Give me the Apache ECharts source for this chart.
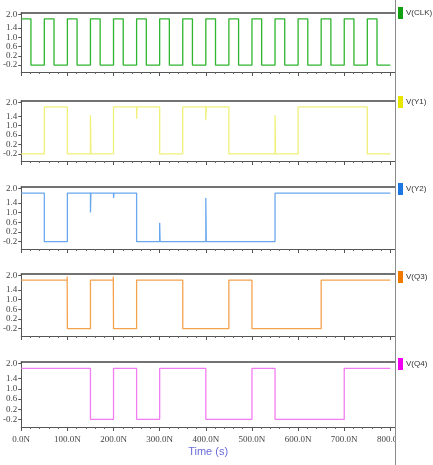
<!DOCTYPE html>
<html>
<head>
<meta charset="utf-8">
<script src="https://cdn.jsdelivr.net/npm/echarts@6/dist/echarts.min.js"></script>
<style>
  html, body { margin: 0; padding: 0; background: #fff; }
  #chart { width: 433px; height: 465px; }
</style>
</head>
<body>
<div id="chart"></div>
<script>
// signal names
const names = ['V(CLK)', 'V(Y1)', 'V(Y2)', 'V(Q3)', 'V(Q4)'];

// waveforms as [time (ns), volts] steps; each level holds until the next point
const clk = [
  [0, 1.8], [21, -0.2], [50, 1.8], [71, -0.2], [100, 1.8], [121, -0.2], [150, 1.8], [171, -0.2],
  [200, 1.8], [221, -0.2], [250, 1.8], [271, -0.2], [300, 1.8], [321, -0.2], [350, 1.8], [371, -0.2],
  [400, 1.8], [421, -0.2], [450, 1.8], [471, -0.2], [500, 1.8], [521, -0.2], [550, 1.8], [571, -0.2],
  [600, 1.8], [621, -0.2], [650, 1.8], [671, -0.2], [700, 1.8], [721, -0.2], [750, 1.8], [771, -0.2],
  [800, -0.2]
];
const y1 = [
  [0, -0.2], [50, 1.8], [100, -0.2], [150, 1.44], [151, -0.2], [200, 1.8], [250, 1.3], [251, 1.8],
  [300, -0.2], [350, 1.8], [400, 1.23], [401, 1.8], [450, -0.2], [550, 1.44], [551, -0.2],
  [600, 1.8], [750, -0.2], [800, -0.2]
];
const y2 = [
  [0, 1.8], [50, -0.2], [100, 1.8], [150, 1.0], [151, 1.8], [200, 1.6], [201, 1.8], [250, -0.2],
  [300, 0.58], [301, -0.2], [400, 1.6], [401, -0.2], [550, 1.8], [800, 1.8]
];
const q3 = [
  [0, 1.8], [99.5, 1.95], [100, -0.2], [150, 1.8], [199.5, 1.95], [200, -0.2], [250, 1.8],
  [350, -0.2], [450, 1.8], [500, -0.2], [650, 1.8], [800, 1.8]
];
const q4 = [
  [0, 1.8], [150, -0.2], [200, 1.8], [250, -0.2], [300, 1.8], [400, -0.2], [500, 1.8],
  [550, -0.2], [700, 1.8], [800, 1.8]
];
const waves = [clk, y1, y2, q3, q4];

// axis ticks
const yLabels = [2.0, 1.4, 1.0, 0.6, 0.2, -0.2];
const xTicks = [0, 100, 200, 300, 400, 500, 600, 700, 800];

const lineColors = ['#2fb52f', '#f0f07a', '#6aa8ee', '#f5a24e', '#f27cf2'];
const keyColors = ['#12a012', '#e6e600', '#1c78e0', '#f07a00', '#f000f0'];

const gridTop = [13, 101, 187, 274, 362];
const gridH = [59, 60, 62, 62, 65];
const legendMid = [13, 102, 189, 277, 364];

const axisGray = '#555';
const tickFont = { fontSize: 9, fontFamily: 'Liberation Serif', color: '#444' };

const grid = [], xAxis = [], yAxis = [], series = [], legend = [];
names.forEach((name, i) => {
  grid.push({ left: 19, width: 376, top: gridTop[i], height: gridH[i] });
  xAxis.push({
    gridIndex: i, type: 'value', min: 0, max: 810, interval: 100,
    name: i === 4 ? 'Time (s)' : '',
    nameLocation: 'middle', nameGap: 19,
    nameTextStyle: { color: '#6b6bd8', fontSize: 11, fontFamily: 'Liberation Sans' },
    axisLine: { onZero: false, lineStyle: { color: axisGray, width: 1 } },
    axisTick: { length: 4, lineStyle: { color: axisGray } },
    minorTick: { show: true, splitNumber: 5, length: 2, lineStyle: { color: '#666' } },
    splitLine: { show: false },
    axisLabel: {
      show: i === 4, customValues: xTicks, margin: 8, ...tickFont,
      formatter: v => v.toFixed(1) + 'N'
    }
  });
  xAxis.push({
    gridIndex: i, type: 'value', min: 0, max: 810, position: 'top',
    axisLine: { show: true, onZero: false, lineStyle: { color: '#444', width: 1.5 } },
    axisTick: { show: false }, axisLabel: { show: false }, splitLine: { show: false }
  });
  yAxis.push({
    gridIndex: i, type: 'value', min: -0.5, max: 2.05,
    axisLine: { show: true, onZero: false, lineStyle: { color: axisGray } },
    axisTick: { show: true, customValues: yLabels, length: 3, lineStyle: { color: axisGray } },
    axisLabel: { customValues: yLabels, margin: 4, ...tickFont, formatter: v => v.toFixed(1) },
    splitLine: { show: false }
  });
  series.push({
    name: name, type: 'line', xAxisIndex: 2 * i, yAxisIndex: i,
    step: 'end', symbol: 'none', animation: false,
    lineStyle: { color: lineColors[i], width: 1.3 },
    itemStyle: { color: lineColors[i] },
    data: waves[i]
  });
  legend.push({
    data: [{ name: name, itemStyle: { color: keyColors[i] } }],
    left: 398, top: legendMid[i] - 6, orient: 'vertical', padding: 0,
    icon: 'rect', itemWidth: 5, itemHeight: 12, selectedMode: false,
    textStyle: { fontSize: 8, fontFamily: 'Liberation Sans', color: '#333', padding: [0, 0, 0, -2] }
  });
});

const chart = echarts.init(document.getElementById('chart'));
chart.setOption({
  backgroundColor: '#fff',
  animation: false,
  grid, xAxis, yAxis, series, legend,
  graphic: [
    { type: 'rect', z: 100, shape: { x: 396, y: 432, width: 12, height: 16 }, style: { fill: '#fff' } },
    { type: 'line', z: 101, shape: { x1: 395.5, y1: 0, x2: 395.5, y2: 465 }, style: { stroke: '#8a8a8a', lineWidth: 1 } }
  ]
});
</script>
</body>
</html>
